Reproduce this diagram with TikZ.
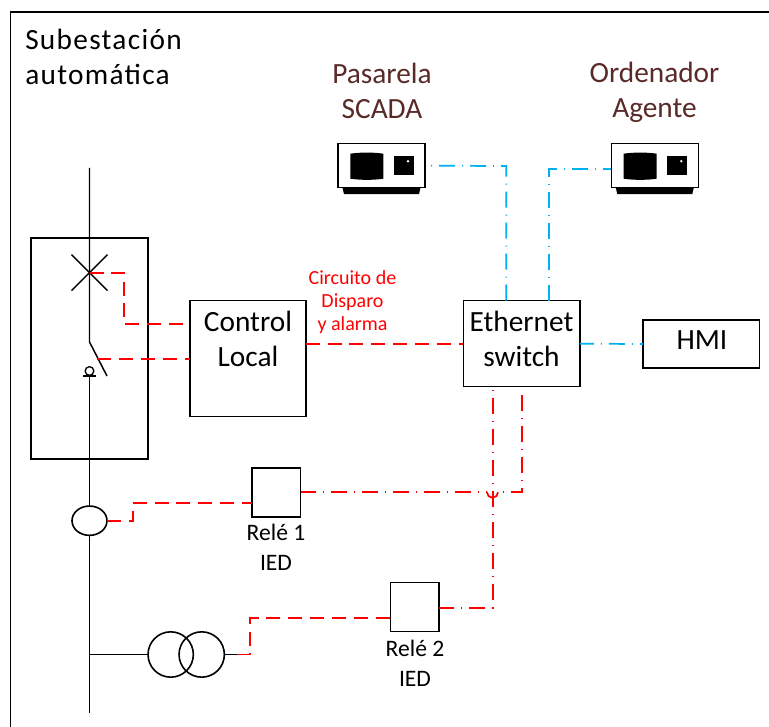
\documentclass[tikz,border=0pt]{standalone}
\usepackage{fontspec}
\setmainfont{Carlito}
\usetikzlibrary{calc,shapes.geometric}
\definecolor{netblue}{HTML}{00B0F0}
\definecolor{brownlbl}{HTML}{5A2A28}
\tikzset{
  x=0.75pt,y=-0.75pt,
  wire/.style={draw=black,line width=1.1pt},
  boxnode/.style={draw=black,line width=1.2pt,fill=white,inner sep=0pt,outer sep=0pt},
  reddash/.style={draw=red,line width=1.3pt,dash pattern=on 10.5pt off 5.9pt},
  reddot/.style={draw=red,line width=1.3pt,dash pattern=on 12pt off 5.25pt on 0.75pt off 5.25pt},
  bluedot/.style={draw=netblue,line width=1.3pt,dash pattern=on 12pt off 5.25pt on 0.75pt off 5.25pt},
  lbl/.style={inner sep=0pt,align=center,font=\fontsize{17.7}{22.5}\selectfont},
  biglbl/.style={inner sep=0pt,align=center,font=\fontsize{22}{26.5}\selectfont},
  titlelbl/.style={inner sep=0pt,align=left,font=\fontsize{22}{26.5}\selectfont\addfontfeatures{LetterSpace=4.4}},
  brown/.style={biglbl,text=brownlbl},
  devicebody/.style={draw=black,line width=1.2pt,fill=white,minimum width=65.25pt,minimum height=33pt,inner sep=0pt,outer sep=0pt},
}
\newcommand{\devicepic}[1]{%
  \fill[black] ($(#1.south west)+(4.5,0)$) -- ($(#1.south east)+(-4.5,0)$) -- ($(#1.south east)+(-6,6.5)$) -- ($(#1.south west)+(6,6.5)$) -- cycle;
  \fill[black] ($(#1.north west)+(12.3,10)$) .. controls ($(#1.north west)+(22,8.5)$) and ($(#1.north west)+(36,8.5)$) .. ($(#1.north west)+(45.3,10)$)
     -- ($(#1.north west)+(45.3,35)$) .. controls ($(#1.north west)+(36,36.5)$) and ($(#1.north west)+(22,36.5)$) .. ($(#1.north west)+(12.3,35)$) -- cycle;
  \fill[black] ($(#1.north west)+(56,12.5)$) rectangle ($(#1.north west)+(75.7,31.5)$);
  \fill[white] ($(#1.north west)+(70,17.5)$) circle (1pt);
}
\begin{document}
\begin{tikzpicture}
\useasboundingbox (0,0) rectangle (769,727);
\draw[wire] (10.5,727) -- (10.5,12) -- (769,12);
% labels
\node[titlelbl,anchor=north west] (title) at (25,29) {Subestación\\automática};
\node[brown] (lscada) at (382,91) {Pasarela\\SCADA};
\node[brown] (lagent) at (654.5,92.5) {Ordenador\\Agente};
% bay box
\node[boxnode,fill=none,minimum width=88pt,minimum height=166pt] (bay) at (89.5,348.5) {};
% bus
\coordinate (busTop) at (89.5,168);
\coordinate (hinge) at (89.5,342);
\coordinate (bladeEnd) at (107,376);
\coordinate (bladeTap) at (97.3,358.7);
\coordinate (contact) at (89.5,376);
\coordinate (busBot) at (89.5,713);
\coordinate (brk) at (89.5,272.7);
\coordinate (txTap) at (89.5,654.5);
\draw[wire] (busTop) -- (hinge) -- (bladeEnd);
\draw[wire] ($(brk)+(-18,-18)$) -- ($(brk)+(18,18)$);
\draw[wire] ($(brk)+(-18,18)$) -- ($(brk)+(18,-18)$);
\draw[wire] (83,376) -- (96,376);
\node[draw=black,line width=1pt,circle,minimum size=6.5pt,inner sep=0pt,outer sep=0pt] (ct0) at (89.5,371) {};
\draw[wire] (contact) -- (busBot);
% CT
\node[draw=black,line width=1.2pt,fill=white,ellipse,minimum width=26.25pt,minimum height=22pt,inner sep=0pt,outer sep=0pt] (ct) at (89.5,520.7) {};
% transformer
\node[draw=black,line width=1.2pt,circle,minimum size=34pt,inner sep=0pt,outer sep=0pt] (t1) at (170.7,654.5) {};
\node[draw=black,line width=1.2pt,circle,minimum size=34pt,inner sep=0pt,outer sep=0pt] (t2) at (201.7,654.5) {};
\coordinate (txOut) at (237,654.5);
\draw[wire] (txTap) -- (t1.west);
\draw[wire] (t2.east) -- (txOut);
% boxes
\node[boxnode,minimum width=87pt,minimum height=87pt,anchor=north west] (ctrl) at (189.7,300.7) {};
\node[biglbl] (lctrl) at (248,339) {Control\\Local};
\node[boxnode,minimum width=87.5pt,minimum height=64.5pt,anchor=north west] (eth) at (463.3,300.7) {};
\node[biglbl] (leth) at (521.5,339) {Ethernet\\switch};
\node[boxnode,minimum width=87.5pt,minimum height=36pt,anchor=north west] (hmi) at (643,320) {};
\node[biglbl] (lhmi) at (702,340) {HMI};
\node[boxnode,minimum width=36.5pt,minimum height=36.5pt,anchor=north west] (r1) at (252,468.3) {};
\node[boxnode,minimum width=36.5pt,minimum height=36.5pt,anchor=north west] (r2) at (390.3,582.7) {};
\node[lbl] (lr1) at (276,547.5) {Relé 1\\IED};
\node[lbl] (lr2) at (415,663.5) {Relé 2\\IED};
\node[anchor=center,inner sep=0pt,align=center,text=red,font=\fontsize{15}{17.25}\selectfont] (lcirc) at (352.5,302) {Circuito de\\Disparo\\y alarma};
% devices
\node[devicebody,anchor=north west] (scada) at (338,143.7) {};
\node[devicebody,anchor=north west] (agent) at (611.3,143.7) {};
\devicepic{scada}
\devicepic{agent}
% blue links
\draw[bluedot,dash phase=12.75pt] (scada.east) -- (506.3,166) -- (506.3,300.7);
\draw[bluedot,dash phase=6pt] (agent.west |- 0,169) -- (549,169) -- (549,300.7);
\draw[bluedot,dash phase=1.5pt] (eth.east) -- (hmi.west);
% red links
\draw[reddash] (brk) -- (124.3,272.7) -- (124.3,324.3) -- (ctrl.west |- 0,324.3);
\draw[reddash] (bladeTap) -- (ctrl.west);
\draw[reddash] (ctrl.east |- eth.west) -- (eth.west);
\draw[reddash] (ct.east) -- (132.7,520.7) -- (132.7,502.7) -- (r1.west |- 0,502.7);
\draw[reddash] (txOut) -- (250,654.5) -- (250,618.3) -- (r2.west |- 0,618.3);
\coordinate (hopL) at (487,492.3);
\coordinate (hopR) at (498,492.3);
\draw[reddot,dash phase=0.5pt] (r1.east |- 0,492.3) -- (hopL);
\draw[draw=red,line width=1.3pt] (hopL) arc[start angle=180,end angle=0,radius=5.5];
\draw[reddot,dash phase=13.7pt] (hopR) -- (522,492.3) -- (522,395);
\draw[reddot,dash phase=14.5pt] (eth.south -| 492.7,0) -- (492.7,608) -- (r2.east |- 0,608);
\end{tikzpicture}
\end{document}
